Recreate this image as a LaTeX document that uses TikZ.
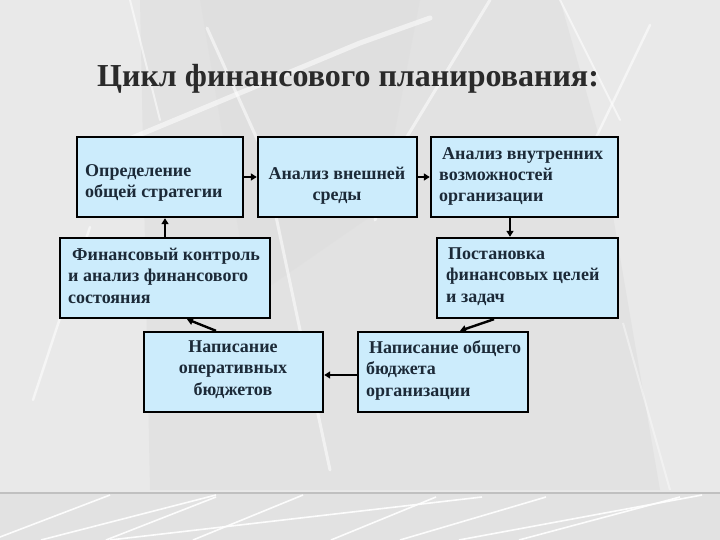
\documentclass[tikz,border=0pt]{standalone}
\usepackage{fontspec}
\setmainfont{Liberation Serif}
\usetikzlibrary{arrows.meta,calc}
\definecolor{bgc}{HTML}{E9E9E9}
\definecolor{bgd}{HTML}{DCDCDC}
\definecolor{bandc}{HTML}{E2E2E2}
\definecolor{boxfill}{RGB}{204,236,252}
\definecolor{txtc}{HTML}{1C2A38}
\definecolor{titlec}{HTML}{2A2A2A}
\tikzset{
  box/.style={draw=black, line width=2.4pt, fill=boxfill, inner sep=0pt},
  txt/.style={inner sep=0pt, text=txtc, font=\fontsize{18}{21.5}\selectfont\bfseries},
  arr/.style={line width=2.4pt, draw=black, -{Triangle[length=6pt,width=7pt]}},
  wline/.style={white, line cap=round, opacity=0.55},
}
\begin{document}
\begin{tikzpicture}[x=1pt,y=-1pt]
\useasboundingbox (0,0) rectangle (720,540);
% background
\fill[bgc] (0,0) rectangle (720,540);
\fill[bgd, opacity=0.5] (140,0) -- (560,0) -- (600,140) -- (660,490) -- (150,490) -- cycle;
\fill[bgd, opacity=0.4] (200,0) -- (420,0) -- (380,210) -- (250,300) -- cycle;
\draw[wline, line width=5pt] (115,145) -- (360,43) -- (430,18);
\draw[wline, line width=3pt] (207,28) -- (262,150) -- (300,330) -- (330,470);
\draw[wline, line width=3pt] (490,0) -- (405,140) -- (375,220);
\draw[wline, line width=2.5pt] (650,25) -- (590,150);
\draw[wline, line width=2pt] (130,0) -- (160,120);
\draw[wline, line width=2.5pt] (33,400) -- (90,227);
\draw[white, opacity=0.4, line width=2pt] (623,323) -- (670,490);
\draw[wline, line width=2pt] (560,0) -- (620,120);
% bottom band
\fill[bandc] (0,492) rectangle (720,540);
\draw[gray!60, line width=1.2pt, opacity=0.7] (0,493) -- (720,493);
\foreach \a/\b/\c/\d in {0/537/110/495, 41/540/216/495, 106/540/216/497, 193/540/303/495, 110/540/482/497, 331/540/436/497, 400/540/546/497, 459/540/702/495, 519/540/680/497}
  \draw[white, line width=1.6pt, opacity=0.9] (\a,\b) -- (\c,\d);
% title
\node[inner sep=0pt, anchor=base west, text=titlec, font=\fontsize{32}{38}\selectfont\bfseries] (title) at (97,87) {Цикл финансового планирования:};
% boxes
\node[box, minimum width=166pt, minimum height=80pt] (b1) at (160,177) {};
\node[box, minimum width=159pt, minimum height=80pt] (b2) at (337.5,177) {};
\node[box, minimum width=187pt, minimum height=80pt] (b3) at (524.5,177) {};
\node[box, minimum width=210pt, minimum height=80pt] (b4) at (165,278) {};
\node[box, minimum width=181pt, minimum height=80pt] (b5) at (527.5,278) {};
\node[box, minimum width=179pt, minimum height=80pt] (b6) at (233.5,372) {};
\node[box, minimum width=170pt, minimum height=80pt] (b7) at (443,372) {};
% texts (anchored at the baseline of the last line)
\node[txt, align=left, anchor=base west] (t1) at (85,198) {Определение\\общей стратегии};
\node[txt, align=center, anchor=base] (t2) at (337,201) {Анализ внешней\\среды};
\node[txt, align=left, anchor=base west] (t3) at (439,202) {\hspace*{3pt}Анализ внутренних\\возможностей\\организации};
\node[txt, align=left, anchor=base west] (t4) at (68,303) {\hspace*{4pt}Финансовый контроль\\и анализ финансового\\состояния};
\node[txt, align=left, anchor=base west] (t5) at (446,302) {\hspace*{2pt}Постановка\\финансовых целей\\и задач};
\node[txt, align=center, anchor=base] (t6) at (233,395) {Написание\\оперативных\\бюджетов};
\node[txt, align=left, anchor=base west] (t7) at (366,396) {\hspace*{3pt}Написание общего\\бюджета\\организации};
% connectors
\draw[arr] (b1) -- (b2);
\draw[arr] (b2) -- (b3);
\draw[arr] ([xshift=-14.5pt]b3.south) -- ([xshift=-14.5pt]b3.south |- b5.north);
\draw[arr] ([xshift=-33.5pt]b5.south) -- ([xshift=17pt]b7.north);
\draw[arr] ([yshift=-3pt]b7.west) -- ([yshift=-3pt]b6.east);
\draw[arr] ([xshift=-17.5pt]b6.north) -- ([xshift=22pt]b4.south);
\draw[arr] (b4.north) -- (b4.north |- b1.south);
\end{tikzpicture}
\end{document}
